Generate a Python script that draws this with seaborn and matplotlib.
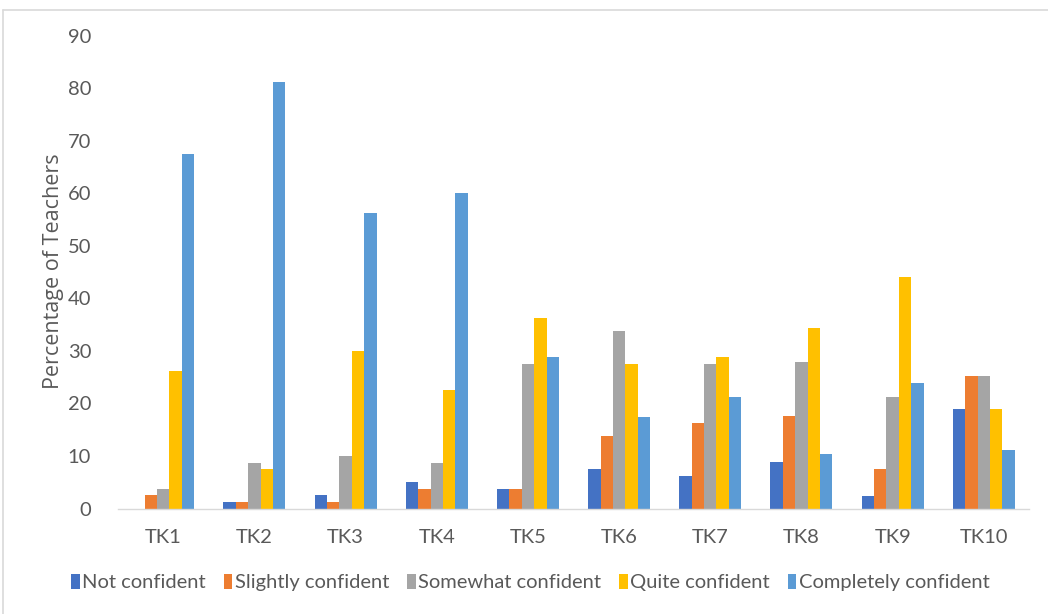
import matplotlib
matplotlib.use("Agg")
import matplotlib.pyplot as plt
from matplotlib.lines import Line2D
from matplotlib.patches import Patch
import seaborn as sns
import pandas as pd

# Survey items and response levels
items = ["TK1", "TK2", "TK3", "TK4", "TK5", "TK6", "TK7", "TK8", "TK9", "TK10"]
levels = ["Not confident", "Slightly confident", "Somewhat confident",
          "Quite confident", "Completely confident"]

# Percentage of teachers per item for each response level
not_confident = [0.0, 1.25, 2.5, 5.0, 3.75, 7.5, 6.25, 8.9, 2.4, 19.0]
slightly_confident = [2.5, 1.25, 1.25, 3.75, 3.75, 13.75, 16.25, 17.7, 7.5, 25.2]
somewhat_confident = [3.75, 8.75, 10.0, 8.75, 27.5, 33.75, 27.5, 27.8, 21.3, 25.2]
quite_confident = [26.25, 7.5, 30.0, 22.5, 36.25, 27.5, 28.75, 34.3, 44.1, 19.0]
completely_confident = [67.5, 81.25, 56.25, 60.0, 28.75, 17.5, 21.25, 10.3, 23.9, 11.2]

colors = ["#4472C4", "#ED7D31", "#A5A5A5", "#FFC000", "#5B9BD5"]

series = [not_confident, slightly_confident, somewhat_confident,
          quite_confident, completely_confident]
df = pd.DataFrame(
    [(item, lvl, val)
     for lvl, vals in zip(levels, series)
     for item, val in zip(items, vals)],
    columns=["item", "level", "pct"],
)

sns.set_theme(style="white")
plt.rcParams["font.family"] = ["Lato", "DejaVu Sans"]

fig = plt.figure(figsize=(10.48, 6.14), dpi=100)
ax = fig.add_axes([0.1122, 0.1718, 0.8701, 0.7701])

sns.barplot(data=df, x="item", y="pct", hue="level", order=items,
            hue_order=levels, palette=colors, width=0.68, saturation=1,
            linewidth=0, errorbar=None, legend=False, ax=ax)

ax.set_ylim(0, 90)
ax.set_xlim(-0.5, len(items) - 0.5)
ax.set_yticks(range(0, 91, 10))
ax.tick_params(axis="y", length=0, pad=19, labelsize=14.5, labelcolor="#595959")
ax.tick_params(axis="x", which="major", length=0, pad=15, labelsize=14.5,
               labelcolor="#595959")
ax.set_xticks([i - 0.5 for i in range(len(items) + 1)], minor=True)
ax.tick_params(axis="x", which="minor", length=5, width=1, color="#D9D9D9")
ax.set_xlabel("")
ax.set_ylabel("")

# Axis title placed in figure coordinates
fig.text(0.051, 0.558, "Percentage of Teachers", rotation=90, ha="center",
         va="center", fontsize=15.5, color="#595959",
         family=["Open Sans", "DejaVu Sans"])

for side in ["top", "right", "left"]:
    ax.spines[side].set_visible(False)
ax.spines["bottom"].set_color("#D9D9D9")
ax.spines["bottom"].set_linewidth(1)

handles = [Patch(facecolor=c, edgecolor="none") for c in colors]
fig.legend(handles, levels, loc="center", bbox_to_anchor=(0.506, 0.051),
           ncol=5, frameon=False, fontsize=14.5, handlelength=0.42,
           handleheight=0.75, handletextpad=0.12, columnspacing=0.9,
           labelcolor="#595959")

# Light chart-area border along the top and left
fig.add_artist(Line2D([0.003, 1.0], [0.984, 0.984], color="#D9D9D9", lw=1.2,
                      transform=fig.transFigure))
fig.add_artist(Line2D([0.003, 0.003], [0.0, 0.984], color="#D9D9D9", lw=1.2,
                      transform=fig.transFigure))

fig.savefig("out.png", dpi=100, facecolor="white")
